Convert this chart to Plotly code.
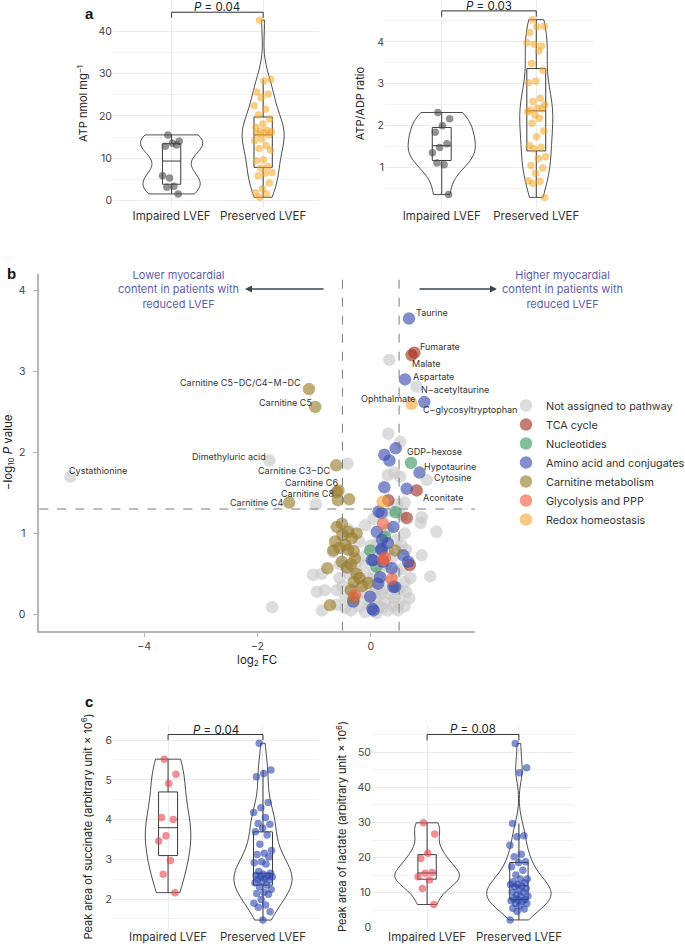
import numpy as np
import plotly.graph_objects as go

W, H = 685, 946
FONT = "Inter, Lato, sans-serif"

groups = ["Impaired LVEF", "Preserved LVEF"]

# ---------------- panel a data ----------------
atp_impaired = [15.5, 14.0, 13.5, 12.8, 13.1, 5.3, 5.8, 3.3, 3.1, 1.5]
atp_preserved = [42.7, 28.7, 28.3, 25.7, 25.2, 24.4, 22.4, 21.6, 20.2, 19.3, 18.1, 17.3,
                 16.6, 16.3, 16.2, 16.0, 15.8, 15.5, 14.5, 14.1, 13.0, 12.3, 11.9, 9.6,
                 9.4, 8.0, 7.6, 6.6, 6.4, 5.8, 4.1, 2.7, 1.8, 1.5, 0.7]
ratio_impaired = [2.31, 2.16, 1.99, 1.84, 1.56, 1.47, 1.35, 1.06, 1.10, 0.35]
ratio_preserved = [4.53, 4.37, 4.36, 4.22, 3.90, 3.94, 3.98, 3.78, 3.48, 3.32, 3.06, 3.02,
                   2.65, 2.57, 2.50, 2.41, 2.37, 2.40, 2.25, 2.33, 2.17, 2.05, 1.87, 1.73,
                   1.52, 1.48, 1.44, 1.25, 1.21, 1.04, 0.98, 0.86, 0.68, 0.66, 0.62, 0.28]

# ---------------- panel c data ----------------
succ_impaired = [5.52, 5.14, 4.91, 4.05, 4.00, 3.59, 3.46, 2.97, 2.62, 2.16]
succ_preserved = [5.92, 5.25, 5.16, 5.08, 4.43, 4.30, 4.18, 4.05, 3.90, 3.88, 3.79, 3.69,
                  3.61, 3.38, 3.22, 3.15, 3.12, 3.06, 2.94, 2.91, 2.88, 2.69, 2.65, 2.62,
                  2.60, 2.58, 2.56, 2.56, 2.52, 2.50, 2.48, 2.44, 2.41, 2.35, 2.31, 2.24,
                  2.17, 2.14, 2.12, 1.99, 1.89, 1.85, 1.79, 1.68, 1.47]
lact_impaired = [29.9, 26.7, 21.2, 19.7, 15.7, 15.5, 14.5, 13.6, 11.2, 6.6]
lact_preserved = [52.5, 45.6, 44.2, 29.7, 26.2, 25.9, 23.5, 20.9, 20.2, 18.8, 18.6, 17.4,
                  16.4, 15.0, 13.9, 13.9, 13.1, 12.8, 12.3, 12.3, 11.9, 11.7, 11.2, 10.7,
                  10.2, 10.1, 9.3, 9.0, 8.8, 8.3, 8.0, 7.9, 7.7, 7.5, 6.9, 6.9, 6.2, 5.5,
                  5.3, 4.6, 2.2]

p_atp, p_ratio, p_succ, p_lact = "0.04", "0.03", "0.04", "0.08"

# ---------------- panel b data (log2 FC, -log10 P) ----------------
other_fc = [-5.30, -1.79, 0.33, 0.81, 0.31, 0.52, -0.41, 0.99, 0.30, 0.42, 0.52, -0.97, 0.47, 0.60,
            0.35, 0.55, 0.90, 0.88, 0.05, -0.10, 0.30, 1.16, 0.60, -0.40,
            0.90, -0.67, -0.20, 0.00, 0.45, 0.55, 0.30, -0.10, 0.12, 0.62,
            -1.02, -0.87, 1.05, -0.45, -0.30, -0.10, 0.05, 0.28, 0.45, 0.55, 0.70, -0.55, 0.15, 0.35, -0.20, 0.60,
            -0.95, -0.81, -0.60, -0.50, -0.35, -0.15, 0.00, 0.20, 0.35, 0.50, 0.62, -0.25, 0.10, 0.42, -0.45,
            -1.74, -0.86, -0.60, -0.45, -0.35, -0.20, -0.10, 0.00, 0.10, 0.20, 0.30, 0.40, 0.50, 0.60, -0.30, 0.25, 0.15, -0.05,
            -0.25, 0.08, 0.38, -0.55, 0.20, -0.05, 0.48, -0.38, 0.68, 0.18]
other_p = [1.70, 1.90, 3.14, 2.81, 2.23, 2.13, 1.86, 1.66, 1.72, 1.75, 1.70, 1.36, 1.36, 1.38,
           1.28, 1.22, 1.20, 1.13, 1.18, 1.10, 1.05, 1.02, 1.00, 1.05,
           0.73, 0.77, 0.90, 0.85, 0.92, 0.85, 0.78, 0.72, 0.88, 0.80,
           0.49, 0.50, 0.47, 0.60, 0.55, 0.60, 0.50, 0.62, 0.52, 0.56, 0.45, 0.45, 0.42, 0.40, 0.45, 0.40,
           0.28, 0.30, 0.30, 0.35, 0.32, 0.28, 0.35, 0.30, 0.25, 0.30, 0.28, 0.22, 0.20, 0.20, 0.22,
           0.09, 0.05, 0.12, 0.08, 0.05, 0.10, 0.03, 0.12, 0.02, 0.08, 0.05, 0.10, 0.15, 0.10, 0.15, 0.15, 0.10, 0.18,
           0.65, 0.30, 0.70, 0.62, 0.55, 0.45, 0.05, 0.50, 0.20, 0.25]
tca_fc = [0.77, 0.72, 0.81, 0.31, 0.635, 0.69]
tca_p = [3.23, 3.20, 1.53, 1.41, 1.19, 0.61]
nuc_fc = [0.71, 0.44, -0.01, 0.25, 0.10]
nuc_p = [1.87, 1.26, 0.79, 0.96, 0.59]
amino_fc = [0.675, 0.605, 0.945, 0.44, 0.24, 0.33, 0.86, 0.24, 0.635,
            0.105, 0.40, 0.19, 0.05, 0.22, 0.37, 0.165, 0.575, 0.66, 0.40, -0.01, -0.31,
            0.05, 0.03, 0.19, 0.14, 0.02, 0.19, 0.43, 0.13, 0.20, 0.30]
amino_p = [3.65, 2.90, 2.62, 2.05, 1.97, 1.90, 1.75, 1.57, 1.55,
           1.02, 1.08, 0.79, 0.67, 0.65, 0.57, 0.46, 0.73, 0.65, 0.34, 0.22, 0.16,
           0.05, 0.07, 1.25, 1.27, 0.67, 0.81, 0.34, 0.38, 0.92, 0.88]
carn_fc = [-1.09, -0.98, -0.61, -0.57, -0.58, -0.38, -1.44, -0.60,
           -0.51, -0.60, -0.25, -0.335, -0.63, -0.45, -0.55, -0.40, -0.30, -0.66, -0.28, -0.51,
           -0.35, -0.42, -0.765, -0.20, -0.05, -0.72, -0.35, -0.30, -0.25, -0.50, -0.40, -0.30, -0.15, 0.43]
carn_p = [2.78, 2.56, 1.84, 1.53, 1.41, 1.42, 1.38, 1.51,
          1.12, 1.08, 1.00, 0.94, 0.90, 0.86, 0.82, 0.80, 0.78, 0.79, 0.69, 0.65,
          0.62, 0.58, 0.57, 0.45, 0.39, 0.115, 0.30, 0.20, 0.50, 0.98, 1.02, 0.40, 0.35, 0.79]
glyc_fc = [0.22, 0.22, -0.28, 0.37, 0.25]
glyc_p = [1.12, 0.67, 0.24, 0.44, 0.70]
redox_fc = [0.72, 0.21]
redox_p = [2.60, 1.39]

pathways = ["Not assigned to pathway", "TCA cycle", "Nucleotides", "Amino acid and conjugates",
            "Carnitine metabolism", "Glycolysis and PPP", "Redox homeostasis"]

label_names = ["Taurine", "Fumarate", "Malate", "Aspartate", "N\u2212acetyltaurine", "Ophthalmate",
               "C\u2212glycosyltryptophan", "GDP\u2212hexose", "Hypotaurine", "Cytosine", "Aconitate",
               "Carnitine C5\u2212DC/C4\u2212M\u2212DC", "Carnitine C5", "Dimethyluric acid",
               "Carnitine C3\u2212DC", "Carnitine C6", "Carnitine C8", "Carnitine C4", "Cystathionine"]
# label anchor positions (layout only)
label_pos = [(0.77, 3.73, "left"), (0.83, 3.31, "left"), (0.69, 3.10, "left"), (0.705, 2.94, "left"),
             (0.86, 2.78, "left"), (0.81, 2.67, "right"), (0.88, 2.53, "left"), (0.605, 2.01, "left"),
             (0.90, 1.83, "left"), (1.075, 1.69, "left"), (0.89, 1.44, "left"),
             (-1.19, 2.86, "right"), (-1.01, 2.62, "right"), (-1.82, 1.95, "right"),
             (-0.68, 1.77, "right"), (-0.55, 1.63, "right"), (-0.61, 1.49, "right"),
             (-1.51, 1.38, "right"), (-5.36, 1.78, "left")]

fc_cut = 0.5
p_cut = 0.05


# ---------------- helpers ----------------
def box_stats(v):
    a = np.asarray(v, float)
    q1, med, q3 = np.percentile(a, [25, 50, 75])
    iqr = q3 - q1
    lo = a[a >= q1 - 1.5 * iqr].min()
    hi = a[a <= q3 + 1.5 * iqr].max()
    return q1, med, q3, lo, hi


def nrd0(v):
    a = np.asarray(v, float)
    q75, q25 = np.percentile(a, [75, 25])
    s = min(a.std(ddof=1), (q75 - q25) / 1.34)
    return 0.9 * s * len(a) ** -0.2


def jitter(n, w=0.2):
    return [((i * 0.6180339887 + 0.3) % 1.0 - 0.5) * w for i in range(n)]


fig = go.Figure()


def add_group(xa, ya, pos, vals, color, vwidth, op):
    fig.add_trace(go.Violin(x0=pos, y=vals, xaxis=xa, yaxis=ya, orientation="v",
                            width=vwidth, scalemode="width", spanmode="hard",
                            bandwidth=nrd0(vals), points=False, box_visible=False,
                            fillcolor="rgba(0,0,0,0)", line=dict(color="#3a3a3a", width=0.9),
                            showlegend=False, hoverinfo="skip"))
    q1, med, q3, lo, hi = box_stats(vals)
    fig.add_trace(go.Box(x=[pos], q1=[q1], median=[med], q3=[q3], lowerfence=[lo],
                         upperfence=[hi], xaxis=xa, yaxis=ya, width=0.2, whiskerwidth=0,
                         fillcolor="rgba(0,0,0,0)", line=dict(color="#3a3a3a", width=1),
                         boxpoints=False, showlegend=False, hoverinfo="skip"))
    fig.add_trace(go.Scatter(x=[pos + j for j in jitter(len(vals))], y=vals, mode="markers",
                             xaxis=xa, yaxis=ya, showlegend=False,
                             marker=dict(size=7.5, color=color, opacity=op, line=dict(width=0))))


GRAY_PT, ORANGE_PT, RED_PT, BLUE_PT = "#474747", "#f4a623", "#e2464f", "#2b44ae"

add_group("x", "y", 0, atp_impaired, GRAY_PT, 0.68, 0.6)
add_group("x", "y", 1, atp_preserved, ORANGE_PT, 0.46, 0.55)
add_group("x2", "y2", 0, ratio_impaired, GRAY_PT, 0.71, 0.6)
add_group("x2", "y2", 1, ratio_preserved, ORANGE_PT, 0.35, 0.55)
add_group("x4", "y4", 0, succ_impaired, RED_PT, 0.48, 0.6)
add_group("x4", "y4", 1, succ_preserved, BLUE_PT, 0.61, 0.6)
add_group("x5", "y5", 0, lact_impaired, RED_PT, 0.70, 0.6)
add_group("x5", "y5", 1, lact_preserved, BLUE_PT, 0.70, 0.6)

# ---------------- panel b ----------------
b_series = [(other_fc, other_p, "#c8c8c8"), (tca_fc, tca_p, "#a53222"),
            (nuc_fc, nuc_p, "#3f9a62"), (amino_fc, amino_p, "#3d50b0"),
            (carn_fc, carn_p, "#9a7d2e"), (glyc_fc, glyc_p, "#f06040"),
            (redox_fc, redox_p, "#f7a840")]
for name, (fx, py, col) in zip(pathways, b_series):
    fig.add_trace(go.Scatter(x=fx, y=py, mode="markers", name=name, xaxis="x3", yaxis="y3",
                             marker=dict(size=12.5, color=col, opacity=0.64, line=dict(width=0))))

annotations = []
for name, (lx, ly, anc) in zip(label_names, label_pos):
    annotations.append(dict(x=lx, y=ly, xref="x3", yref="y3", text=name, showarrow=False,
                            xanchor=anc, yanchor="middle", font=dict(size=9, color="#333", family=FONT)))

# ---------------- brackets / P values ----------------
shapes = []
for xa, ya, ytop, ytick, p in [("x", "y", 44.6, 43.3, p_atp), ("x2", "y2", 4.74, 4.60, p_ratio),
                               ("x4", "y4", 6.14, 6.0, p_succ), ("x5", "y5", 55.1, 53.4, p_lact)]:
    shapes.append(dict(type="path", xref=xa, yref=ya,
                       path=f"M 0,{ytick} L 0,{ytop} L 1,{ytop} L 1,{ytick}",
                       line=dict(color="#333", width=1)))
    annotations.append(dict(x=0.5, y=ytop, xref=xa, yref=ya, text=f"<i>P</i> = {p}",
                            showarrow=False, xanchor="center", yanchor="bottom", yshift=-4,
                            font=dict(size=11.5, color="#222", family=FONT)))

# threshold lines
for xv in (-fc_cut, fc_cut):
    shapes.append(dict(type="line", xref="x3", yref="y3 domain", x0=xv, x1=xv, y0=0, y1=1,
                       line=dict(color="#7a7a7a", width=1, dash="dash")))
shapes.append(dict(type="line", xref="x3 domain", yref="y3", x0=0, x1=1,
                   y0=-np.log10(p_cut), y1=-np.log10(p_cut),
                   line=dict(color="#7a7a7a", width=1, dash="dash")))

# arrows and direction texts
arrow_y = 1 - 289 / H
annotations += [
    dict(x=245 / W, y=arrow_y, xref="paper", yref="paper", ax=80, ay=0, text="", showarrow=True,
         arrowhead=2, arrowsize=1, arrowwidth=1.4, arrowcolor="#3d4654"),
    dict(x=497 / W, y=arrow_y, xref="paper", yref="paper", ax=-79, ay=0, text="", showarrow=True,
         arrowhead=2, arrowsize=1, arrowwidth=1.4, arrowcolor="#3d4654"),
    dict(x=178 / W, y=arrow_y, xref="paper", yref="paper", showarrow=False, align="center",
         xanchor="center", yanchor="middle",
         text="Lower myocardial<br>content in patients with<br>reduced LVEF",
         font=dict(size=11, color="#5d5db0", family=FONT)),
    dict(x=562 / W, y=arrow_y, xref="paper", yref="paper", showarrow=False, align="center",
         xanchor="center", yanchor="middle",
         text="Higher myocardial<br>content in patients with<br>reduced LVEF",
         font=dict(size=11, color="#5d5db0", family=FONT)),
]
# panel letters
for letter, px, py in [("a", 83, 14), ("b", 5, 273), ("c", 83, 701)]:
    annotations.append(dict(x=px / W, y=1 - py / H, xref="paper", yref="paper", text=f"<b>{letter}</b>",
                            showarrow=False, xanchor="left", yanchor="middle",
                            font=dict(size=15, color="#111", family="Liberation Sans, Arial")))


def py2paper(top, bottom):
    return [1 - bottom / H, 1 - top / H]


def cat_xaxis(dom, rng, anchor):
    return dict(domain=dom, range=rng, anchor=anchor, type="linear", tickvals=[0, 1], ticktext=groups,
                showgrid=True, gridcolor="#ebebeb", gridwidth=1, zeroline=False, showline=False,
                ticks="", tickfont=dict(size=11.5, color="#333", family=FONT))


def val_yaxis(dom, rng, anchor, major, minor, title, standoff):
    return dict(domain=dom, range=rng, anchor=anchor, tickmode="array", tickvals=major,
                showgrid=True, gridcolor="#ebebeb", gridwidth=1, zeroline=False, showline=False,
                ticks="", tickfont=dict(size=10.5, color="#444", family=FONT),
                minor=dict(tickmode="array", tickvals=minor, showgrid=True, gridcolor="#f3f3f3",
                           gridwidth=1),
                title=dict(text=title, font=dict(size=11, color="#222", family=FONT), standoff=standoff))


a_dom = py2paper(0, 207)
c_dom = py2paper(725, 928)
b_dom = py2paper(274, 630.7)

layout = dict(
    width=W, height=H, margin=dict(l=0, r=0, t=0, b=0, autoexpand=False),
    paper_bgcolor="white", plot_bgcolor="white",
    font=dict(family=FONT, color="#333"),
    boxmode="overlay", violinmode="overlay",
    xaxis=cat_xaxis([113 / W, 319 / W], [-0.64, 1.61], "y"),
    yaxis=val_yaxis(a_dom, [-1.6, 47.5], "x", [0, 10, 20, 30, 40], [5, 15, 25, 35],
                    "ATP nmol mg<sup>\u22121</sup>", 8),
    xaxis2=cat_xaxis([385 / W, 593 / W], [-0.6, 1.6], "y2"),
    yaxis2=val_yaxis(a_dom, [0.05, 5.0], "x2", [1, 2, 3, 4], [0.5, 1.5, 2.5, 3.5, 4.5],
                     "ATP/ADP ratio", 10),
    xaxis4=cat_xaxis([113 / W, 319 / W], [-0.58, 1.59], "y4"),
    yaxis4=val_yaxis(c_dom, [1.27, 6.38], "x4", [2, 3, 4, 5, 6], [1.5, 2.5, 3.5, 4.5, 5.5],
                     "Peak area of succinate (arbitrary unit \u00d7 10<sup>6</sup>)", 10),
    xaxis5=cat_xaxis([372 / W, 574 / W], [-0.6, 1.6], "y5"),
    yaxis5=val_yaxis(c_dom, [-0.1, 57.8], "x5", [0, 10, 20, 30, 40, 50], [5, 15, 25, 35, 45, 55],
                     "Peak area of lactate (arbitrary unit \u00d7 10<sup>6</sup>)", 8),
    xaxis3=dict(domain=[39.3 / W, 475 / W], range=[-5.85, 1.84], anchor="y3", showgrid=False,
                zeroline=False, showline=True, linecolor="#b5b5b5", linewidth=1.5,
                ticks="outside", ticklen=5, tickcolor="#b5b5b5", tickvals=[-4, -2, 0],
                ticktext=["\u22124", "\u22122", "0"],
                tickfont=dict(size=10.5, color="#444", family=FONT),
                title=dict(text="log<sub>2</sub> FC", font=dict(size=11.5, color="#222", family=FONT),
                           standoff=2)),
    yaxis3=dict(domain=b_dom, range=[-0.2, 4.2], anchor="x3", showgrid=False, zeroline=False,
                showline=True, linecolor="#b5b5b5", linewidth=1.5, ticks="outside", ticklen=5,
                tickcolor="#b5b5b5", tickvals=[0, 1, 2, 3, 4], ticklabelstandoff=5,
                tickfont=dict(size=10.5, color="#444", family=FONT),
                title=dict(text="\u2212log<sub>10</sub> <i>P</i> value",
                           font=dict(size=11.5, color="#222", family=FONT), standoff=4)),
    legend=dict(x=506 / W, y=1 - 391 / H, xanchor="left", yanchor="top", bgcolor="rgba(0,0,0,0)",
                font=dict(size=10.8, color="#333", family=FONT), tracegroupgap=0, itemsizing="trace"),
    annotations=annotations, shapes=shapes, showlegend=True,
)
fig.update_layout(**layout)
fig.write_html("out.html", config={"displayModeBar": False},
               post_script="document.body.style.margin='0';document.body.style.overflow='hidden';")
